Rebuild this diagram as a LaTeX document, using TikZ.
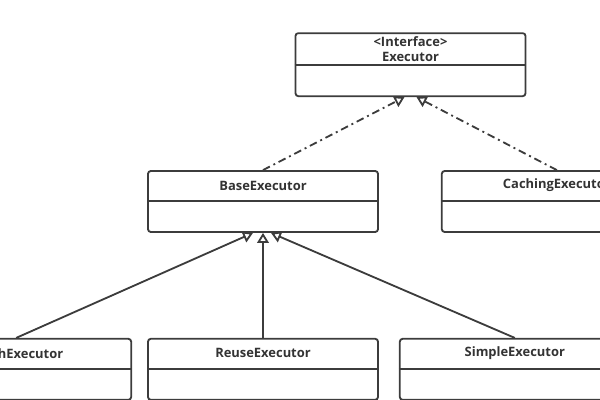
\documentclass[tikz,border=0pt]{standalone}
\usepackage{fontspec}
\setmainfont{Open Sans}
\usepackage{tikz}
\usetikzlibrary{arrows.meta,positioning}
\usepackage{xcolor}
\definecolor{umlline}{RGB}{60,60,60}
\definecolor{umltext}{RGB}{51,51,51}
\tikzstyle{classbox} = [rectangle, rounded corners=2pt, minimum width=5.75cm, minimum height=1.525cm, inner sep=0pt, draw=umlline, line width=1.3pt, fill=white]
\tikzstyle{classtitle} = [font=\fontsize{9.2}{10.6}\selectfont\bfseries, text=umltext, align=center, inner sep=0pt]
\tikzstyle{divider} = [draw=umlline, line width=1.3pt]
\tikzstyle{inherit} = [line width=1.3pt, color=umlline, -{Triangle[open,length=2.5mm,width=2.9mm,fill=white]}]
\tikzstyle{realize} = [inherit, dash pattern=on 5.5pt off 2.8pt on 1.4pt off 2.8pt]

\begin{document}
\begin{tikzpicture}
\useasboundingbox (0,0) rectangle (15,-10);

% Class boxes
\node (base) [classbox] at (6.575,-5.0375) {};
\node (executor) [classbox, minimum height=1.575cm, above=1.825cm of base, xshift=3.6875cm] {};
\node (caching) [classbox, right=1.55cm of base] {};
\node (reuse) [classbox, below=2.625cm of base] {};
\node (batch) [classbox, left=0.375cm of reuse] {};
\node (simple) [classbox, right=0.5cm of reuse] {};

% Titles
\node (executor-t) [classtitle] at ([yshift=-0.4125cm]executor.north) {<Interface>\\Executor};
\node (base-t) [classtitle] at ([yshift=-0.3875cm]base.north) {BaseExecutor};
\node (caching-t) [classtitle] at ([yshift=-0.3875cm]caching.north) {CachingExecutor};
\node (batch-t) [classtitle] at ([yshift=-0.3875cm]batch.north) {BatchExecutor};
\node (reuse-t) [classtitle] at ([yshift=-0.3875cm]reuse.north) {ReuseExecutor};
\node (simple-t) [classtitle] at ([yshift=-0.3875cm]simple.north) {SimpleExecutor};

% Dividers
\draw[divider] ([yshift=-0.825cm]executor.north west) -- ([yshift=-0.825cm]executor.north east);
\draw[divider] ([yshift=-0.775cm]base.north west) -- ([yshift=-0.775cm]base.north east);
\draw[divider] ([yshift=-0.775cm]caching.north west) -- ([yshift=-0.775cm]caching.north east);
\draw[divider] ([yshift=-0.775cm]batch.north west) -- ([yshift=-0.775cm]batch.north east);
\draw[divider] ([yshift=-0.775cm]reuse.north west) -- ([yshift=-0.775cm]reuse.north east);
\draw[divider] ([yshift=-0.775cm]simple.north west) -- ([yshift=-0.775cm]simple.north east);

% Arrows
\draw[realize] (base.north) -- ([xshift=-0.15cm]executor.south);
\draw[realize] (caching.north) -- ([xshift=0.15cm]executor.south);
\draw[inherit] (batch.north) -- ([xshift=-0.25cm]base.south);
\draw[inherit] (reuse.north) -- (base.south);
\draw[inherit] (simple.north) -- ([xshift=0.2cm]base.south);
\end{tikzpicture}
\end{document}
